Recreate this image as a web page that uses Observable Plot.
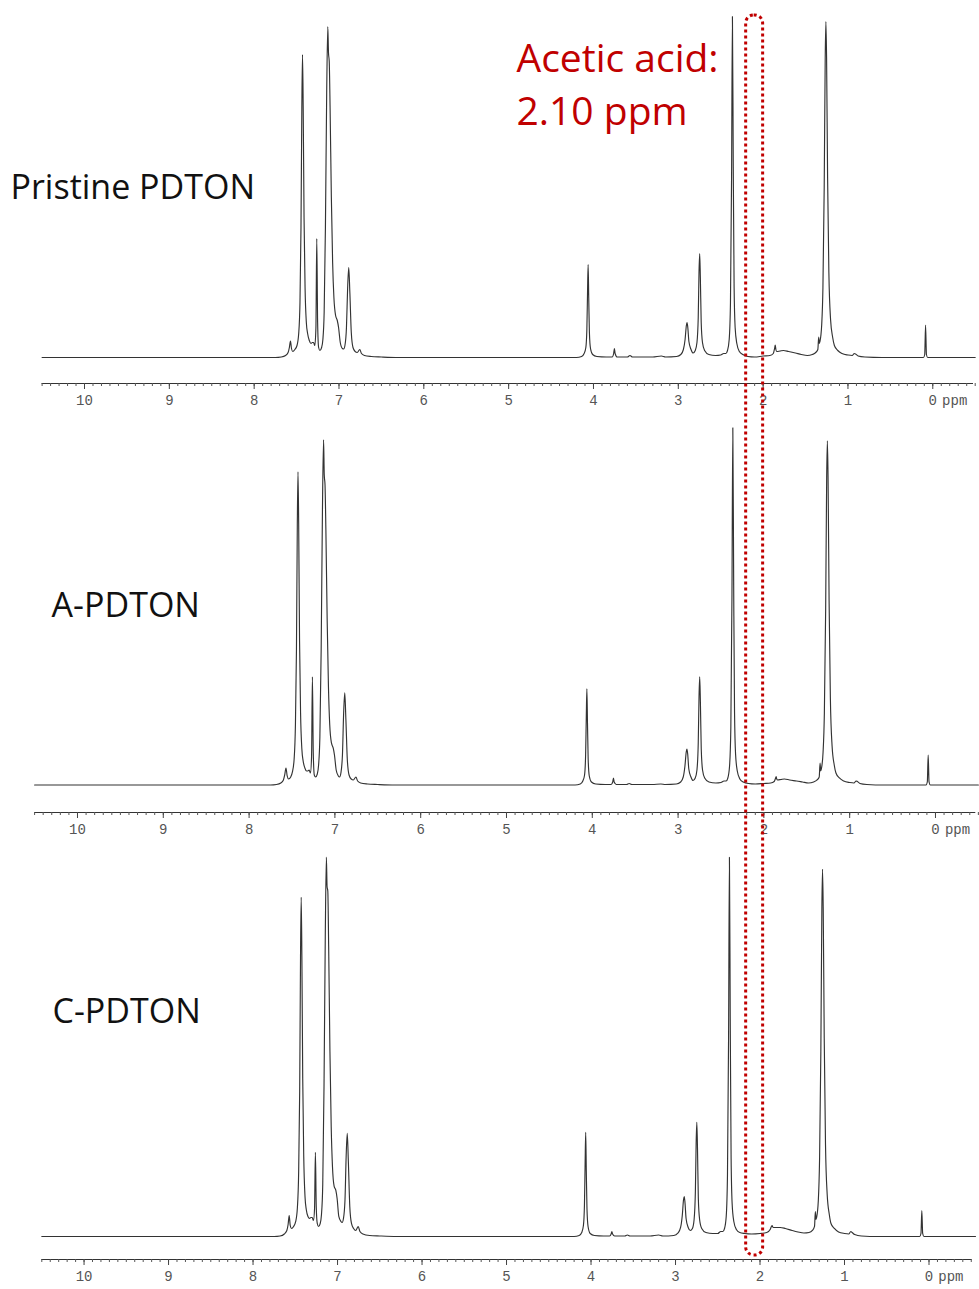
<!DOCTYPE html>
<html><head><meta charset="utf-8">
<script src="https://cdn.jsdelivr.net/npm/d3@7"></script>
<script src="https://cdn.jsdelivr.net/npm/@observablehq/plot@0.6"></script>
<style>
body{margin:0;background:#fff;}
#wrap{position:relative;width:979px;height:1289px;overflow:hidden;background:#fff;}
#wrap svg{position:absolute;left:0;}
</style></head><body><div id="wrap"></div>
<script>
// ---- data: 1H NMR traces, [chemical shift (ppm), intensity (a.u.)] ----
const sampleNames = ["Pristine PDTON", "A-PDTON", "C-PDTON"];

const pristineTrace = [
[10.5,0],[7.75,0],[7.68,0.5],[7.63,2],[7.60,5],[7.585,10],[7.572,16.5],[7.56,9],[7.545,6],[7.52,8],[7.495,12],[7.475,24],[7.46,55],[7.448,130],[7.438,250],[7.43,303],[7.422,250],[7.412,140],[7.40,70],[7.385,35],[7.37,24],[7.35,17],[7.33,14],[7.315,15],[7.30,15],[7.285,12],[7.272,30],[7.262,119],[7.252,35],[7.24,10],[7.225,7],[7.205,10],[7.19,18],[7.175,45],[7.16,130],[7.145,265],[7.132,331],[7.124,305],[7.115,296],[7.105,250],[7.09,160],[7.075,95],[7.06,60],[7.04,42],[7.02,37],[7.005,30],[6.985,15],[6.96,9],[6.945,8.5],[6.93,12],[6.912,30],[6.898,70],[6.885,90],[6.872,65],[6.855,25],[6.835,10],[6.81,6],[6.785,5],[6.755,8],[6.735,4],[6.70,2],[6.62,1],[6.50,0.5],[6.3,0],
[4.20,0],[4.14,1],[4.11,4],[4.09,10],[4.078,28],[4.07,65],[4.063,93],[4.056,60],[4.048,25],[4.035,9],[4.01,3],[3.96,1],[3.85,0.5],[3.78,0.5],[3.762,4],[3.753,9],[3.745,4],[3.72,0.5],[3.6,0.5],[3.57,2],[3.54,0.5],[3.3,0.5],[3.2,1.5],[3.15,0.5],[3.02,1],[2.97,3],[2.94,8],[2.92,18],[2.905,32],[2.897,35],[2.888,30],[2.875,16],[2.85,8],[2.825,4.5],[2.80,7],[2.78,15],[2.765,40],[2.756,85],[2.748,104],[2.740,80],[2.73,35],[2.715,15],[2.69,7],[2.64,3],[2.56,2],[2.50,2.5],[2.465,4],[2.44,4],[2.42,7],[2.40,18],[2.385,55],[2.372,180],[2.362,341],[2.352,190],[2.342,70],[2.33,30],[2.31,14],[2.28,6],[2.24,3],[2.18,1],[2.10,0.5],[2.0,1.5],[1.92,2],[1.88,4],[1.865,9],[1.857,12.5],[1.85,8],[1.84,6],[1.80,6.5],[1.76,7],[1.70,6],[1.62,4.5],[1.55,3],[1.48,2],[1.42,3],[1.38,5],[1.355,8],[1.345,20.5],[1.338,14],[1.33,16],[1.31,32],[1.295,70],[1.28,170],[1.268,300],[1.26,336],[1.252,300],[1.24,180],[1.225,85],[1.205,38],[1.18,20],[1.16,12],[1.12,7],[1.07,4],[1.00,2.5],[0.95,2],[0.925,4],[0.91,3.5],[0.88,1.5],[0.80,0.5],[0.60,0],[0.11,0],[0.095,3],[0.085,32.5],[0.075,3],[0.06,0],[-0.5,0]
];

const aTrace = [
[10.5,0],[7.75,0],[7.68,0.5],[7.63,2],[7.60,5],[7.585,10],[7.57,17],[7.556,9],[7.54,6],[7.515,8],[7.495,13],[7.475,26],[7.46,60],[7.448,135],[7.438,260],[7.43,313],[7.422,260],[7.412,145],[7.40,72],[7.385,36],[7.37,24],[7.35,17],[7.33,14],[7.315,14],[7.30,15],[7.285,12],[7.272,28],[7.262,108],[7.252,32],[7.24,10],[7.225,8],[7.205,11],[7.19,20],[7.175,48],[7.16,135],[7.145,275],[7.132,345],[7.124,310],[7.115,300],[7.105,255],[7.09,165],[7.075,98],[7.06,60],[7.04,42],[7.02,37],[7.005,30],[6.985,15],[6.96,9],[6.945,8],[6.93,12],[6.912,30],[6.898,72],[6.885,92],[6.872,66],[6.855,25],[6.835,10],[6.81,6],[6.785,5],[6.755,8],[6.735,4],[6.70,2],[6.62,1],[6.50,0.5],[6.3,0],
[4.20,0],[4.14,1],[4.11,4],[4.09,10],[4.078,29],[4.07,67],[4.063,96],[4.056,62],[4.048,26],[4.035,9],[4.01,3],[3.96,1],[3.85,0.5],[3.78,0.5],[3.762,3],[3.753,7],[3.745,3],[3.72,0.5],[3.6,0.5],[3.57,1.5],[3.54,0.5],[3.3,0.5],[3.2,1],[3.15,0.5],[3.02,1],[2.97,3],[2.94,8],[2.92,19],[2.905,33],[2.897,36],[2.888,31],[2.875,16],[2.85,8],[2.825,4.5],[2.80,7],[2.78,15],[2.765,42],[2.756,88],[2.748,108],[2.740,83],[2.73,36],[2.715,15],[2.69,7],[2.64,3],[2.56,2],[2.50,2.5],[2.465,4],[2.44,4],[2.42,7],[2.40,19],[2.385,58],[2.372,190],[2.362,357],[2.352,200],[2.342,73],[2.33,31],[2.31,14],[2.28,6],[2.24,3],[2.18,1.5],[2.10,1],[2.0,1.5],[1.92,2],[1.88,3.5],[1.865,6.5],[1.857,8.5],[1.85,6],[1.84,5],[1.80,5.5],[1.76,6],[1.70,5],[1.62,4],[1.55,3],[1.48,2],[1.42,3],[1.38,5],[1.355,8],[1.345,22],[1.338,14],[1.33,16],[1.31,33],[1.295,72],[1.28,175],[1.268,308],[1.26,344],[1.252,308],[1.24,185],[1.225,87],[1.205,39],[1.18,20],[1.16,12],[1.12,7],[1.07,4],[1.00,2.5],[0.95,2],[0.925,4],[0.91,3.5],[0.88,1.5],[0.80,0.5],[0.60,0],[0.11,0],[0.095,3],[0.085,30],[0.075,3],[0.06,0],[-0.5,0]
];

const cTrace = [
[10.5,0],[7.75,0],[7.68,0.5],[7.63,2.5],[7.60,6],[7.585,12],[7.572,21],[7.56,11],[7.545,8],[7.52,10],[7.495,15],[7.475,29],[7.46,65],[7.448,145],[7.438,280],[7.43,339],[7.422,280],[7.412,158],[7.40,80],[7.385,40],[7.37,27],[7.35,20],[7.33,18],[7.315,19],[7.30,19],[7.285,16],[7.272,28],[7.262,84],[7.252,30],[7.24,13],[7.225,10],[7.205,13],[7.19,22],[7.175,52],[7.16,150],[7.145,300],[7.132,379],[7.124,350],[7.115,345],[7.105,290],[7.09,185],[7.075,110],[7.06,70],[7.04,50],[7.02,46],[7.005,38],[6.985,20],[6.96,15],[6.945,14],[6.93,18],[6.912,36],[6.898,80],[6.885,103],[6.872,75],[6.855,30],[6.835,13],[6.81,8],[6.785,6],[6.755,10],[6.735,5],[6.70,2.5],[6.62,1],[6.50,0.5],[6.3,0],
[4.20,0],[4.14,1],[4.11,4],[4.09,11],[4.078,31],[4.07,72],[4.063,104],[4.056,66],[4.048,28],[4.035,10],[4.01,3],[3.96,1],[3.85,0.5],[3.78,0.5],[3.762,2.5],[3.753,5],[3.745,2.5],[3.72,0.5],[3.6,0.5],[3.57,1.5],[3.54,0.5],[3.3,0.5],[3.2,1.5],[3.15,0.5],[3.02,1],[2.97,3.5],[2.94,9],[2.92,21],[2.905,37],[2.897,40],[2.888,34],[2.875,18],[2.85,9],[2.825,6],[2.80,8],[2.78,17],[2.765,45],[2.756,93],[2.748,114],[2.740,88],[2.73,38],[2.715,17],[2.69,8],[2.64,4],[2.56,3],[2.50,3],[2.465,5],[2.44,5],[2.42,8],[2.40,20],[2.385,62],[2.372,200],[2.362,379],[2.352,210],[2.342,78],[2.33,33],[2.31,15],[2.28,7],[2.24,4],[2.18,3],[2.10,2.5],[2.0,3],[1.92,4],[1.88,7],[1.865,10],[1.857,11],[1.85,9.5],[1.84,9],[1.80,9],[1.76,9],[1.70,8],[1.62,6],[1.55,4.5],[1.48,3.5],[1.42,4],[1.38,6],[1.355,10],[1.345,25],[1.338,17],[1.33,19],[1.31,36],[1.295,78],[1.28,185],[1.268,328],[1.26,367],[1.252,328],[1.24,198],[1.225,92],[1.205,42],[1.18,22],[1.16,13],[1.12,8],[1.07,4.5],[1.00,3],[0.95,2.5],[0.925,5],[0.91,4],[0.88,2],[0.80,0.5],[0.60,0],[0.11,0],[0.095,3],[0.085,26],[0.075,3],[0.06,0],[-0.55,0]
];

const majorTicks = d3.range(0, 11);                     // 0 … 10 ppm
const minorTicks = d3.range(-5, 106).map(i => i / 10);  // every 0.1 ppm
const unitLabel = "ppm";
const aceticAcidPpm = 2.10;
const aceticLines = ["Acetic acid:", "2.10 ppm"];

// ---- layout of the three stacked spectra ----
const panels = [
  {name: sampleNames[0], data: pristineTrace, top: 0,   height: 420, ml: 41.6, mr: 6,   xDom: [10.5, -0.48], yDom: [-26, 341],   mt: 16,  mb: 37, ldx: -31.6, ldy: 172},
  {name: sampleNames[1], data: aTrace,        top: 420, height: 430, ml: 34.1, mr: 3.7, xDom: [10.5, -0.47], yDom: [-27.5, 357], mt: 7.3, mb: 38, ldx: 17,    ldy: 178},
  {name: sampleNames[2], data: cTrace,        top: 850, height: 439, ml: 41.3, mr: 7.4, xDom: [10.5, -0.51], yDom: [-23, 379],   mt: 6.7, mb: 30, ldx: 10.7,  ldy: 155}
];

const wrap = document.getElementById("wrap");
const axisFont = "Liberation Mono, DejaVu Sans Mono, monospace";
const labelFont = "Open Sans, Lato, sans-serif";

for (const p of panels) {
  const svg = Plot.plot({
    width: 979, height: p.height,
    marginLeft: p.ml, marginRight: p.mr, marginTop: p.mt, marginBottom: p.mb,
    x: {domain: p.xDom},
    y: {domain: p.yDom, axis: null},
    style: {background: "transparent", overflow: "visible"},
    marks: [
      Plot.ruleY([p.yDom[0]], {stroke: "#333", strokeWidth: 1}),
      Plot.axisX(minorTicks, {tickSize: 3, fill: "none", stroke: "#555"}),
      Plot.axisX(majorTicks, {tickSize: 6, tickPadding: 6, tickFormat: d => String(d),
        fontSize: 14, fontFamily: axisFont, fill: "#555", stroke: "#444"}),
      Plot.text([unitLabel], {x: -0.11, frameAnchor: "bottom", text: d => d, textAnchor: "start",
        lineAnchor: "top", dy: 12, fontSize: 14, fontFamily: axisFont, fill: "#555"}),
      Plot.line(p.data, {x: d => d[0], y: d => d[1], stroke: "#333", strokeWidth: 1.15, curve: "monotone-x"}),
      Plot.text([p.name], {frameAnchor: "top-left", text: d => d, textAnchor: "start", lineAnchor: "middle",
        dx: p.ldx, dy: p.ldy, fontSize: 34, fontFamily: labelFont, fill: "#111"})
    ]
  });
  svg.style.top = p.top + "px";
  wrap.appendChild(svg);
}

// ---- overlay: acetic-acid window across all three spectra ----
const overlay = Plot.plot({
  width: 979, height: 1289,
  marginLeft: 41.6, marginRight: 6, marginTop: 15, marginBottom: 34,
  x: {domain: [10.5, -0.48], axis: null},
  style: {background: "transparent", overflow: "visible"},
  marks: [
    Plot.rect([aceticAcidPpm], {x1: d => d + 0.1, x2: d => d - 0.1, fill: "none",
      stroke: "#c00000", strokeWidth: 3, strokeDasharray: "3,3", rx: 8}),
    Plot.text([aceticLines[0]], {frameAnchor: "top-left", text: d => d, textAnchor: "start", lineAnchor: "middle",
      dx: 474.4, dy: 44.5, fontSize: 39, fontFamily: labelFont, fill: "#c00000"}),
    Plot.text([aceticLines[1]], {frameAnchor: "top-left", text: d => d, textAnchor: "start", lineAnchor: "middle",
      dx: 474.4, dy: 97.5, fontSize: 39, fontFamily: labelFont, fill: "#c00000"})
  ]
});
overlay.style.top = "0px";
wrap.appendChild(overlay);
</script></body></html>
